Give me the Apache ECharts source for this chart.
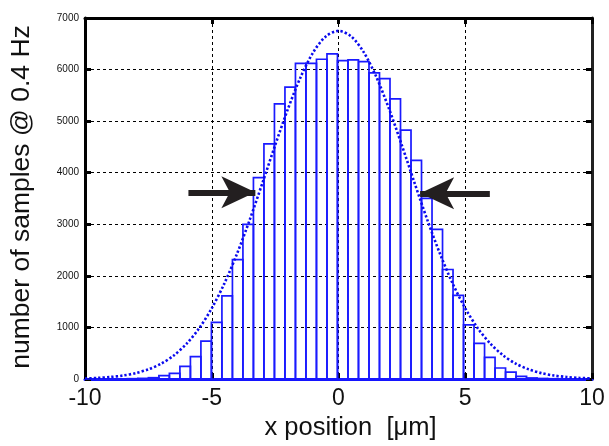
<!DOCTYPE html>
<html>
<head>
<meta charset="utf-8">
<script src="https://cdn.jsdelivr.net/npm/echarts@6/dist/echarts.min.js"></script>
<style>
html,body{margin:0;padding:0;background:#fff;}
#chart{width:609px;height:446px;}
</style>
</head>
<body>
<div id="chart"></div>
<script>
// Histogram bins: first left edge and bin width (μm)
const binStart = -9.986;
const binWidth = 0.4144;
// Counts per bin, left to right (48 bins)
const binCounts = [
  0, 1, 2, 3, 6, 12, 25, 64, 110, 246, 432, 735,
  1097, 1612, 2316, 3000, 3903, 4561, 5335, 5658, 6122, 6122, 6200, 6303,
  6174, 6187, 6154, 5935, 5826, 5432, 4825, 4238, 3503, 2903, 2123, 1620,
  1051, 690, 419, 213, 135, 52, 20, 10, 5, 3, 1, 0
];
// Gaussian fit curve
const fitX = [-10,-9.5,-9,-8.5,-8,-7.5,-7,-6.5,-6,-5.5,-5,-4.5,-4,-3.5,-3,-2.5,-2,-1.5,-1,-0.5,0,
              0.5,1,1.5,2,2.5,3,3.5,4,4.5,5,5.5,6,6.5,7,7.5,8,8.5,9,9.5,10];
const fitY = [11,21,39,67,114,187,296,456,680,981,1371,1855,2433,3090,3802,4531,5230,5848,6333,6643,6750,
              6643,6333,5848,5230,4531,3802,3090,2433,1855,1371,981,680,456,296,187,114,67,39,21,11];
// Arrows marking the FWHM: [tail x, tip x, y]
const arrowLeft = [-5.92, -3.28, 3620];
const arrowRight = [5.97, 3.22, 3600];
const xTicks = [-10, 10, 5];   // min, max, interval
const yTicks = [0, 7000, 1000];

const histData = binCounts.map((c, i) => [binStart + i * binWidth, binStart + (i + 1) * binWidth, c]);
const fitData = fitX.map((x, i) => [x, fitY[i]]);

const chart = echarts.init(document.getElementById('chart'), null, {renderer: 'canvas'});
const FONT = 'Liberation Sans, Arial, Helvetica, sans-serif';
const gridDash = {type: [3, 3], color: '#000', width: 1};

chart.setOption({
  animation: false,
  backgroundColor: '#fff',
  grid: {left: 85, right: 17, top: 18, bottom: 66},
  xAxis: [{
    type: 'value', min: xTicks[0], max: xTicks[1], interval: xTicks[2], position: 'bottom',
    axisLine: {show: true, onZero: false, lineStyle: {color: '#1414ff', width: 3}},
    axisTick: {show: true, inside: true, length: 6, lineStyle: {color: '#000', width: 3}},
    axisLabel: {fontSize: 23, color: '#111', fontFamily: FONT, margin: 8},
    splitLine: {show: true, lineStyle: gridDash},
    name: 'x position  [μm]', nameLocation: 'middle', nameGap: 36,
    nameTextStyle: {fontSize: 25.5, color: '#111', fontFamily: FONT, padding: [0, 0, 0, 24]}
  }, {
    type: 'value', min: xTicks[0], max: xTicks[1], interval: xTicks[2], position: 'top',
    axisLine: {show: true, onZero: false, lineStyle: {color: '#000', width: 3}},
    axisTick: {show: true, inside: true, length: 6, lineStyle: {color: '#000', width: 3}},
    axisLabel: {show: false}, splitLine: {show: false}
  }],
  yAxis: [{
    type: 'value', min: yTicks[0], max: yTicks[1], interval: yTicks[2], position: 'left',
    axisLine: {show: true, onZero: false, lineStyle: {color: '#000', width: 3}},
    axisTick: {show: true, inside: true, length: 6, lineStyle: {color: '#000', width: 3}},
    axisLabel: {fontSize: 10, color: '#111', fontFamily: FONT, margin: 6, formatter: v => String(v)},
    splitLine: {show: true, lineStyle: gridDash},
    name: 'number of samples @ 0.4 Hz', nameLocation: 'middle', nameGap: 50,
    nameTextStyle: {fontSize: 26.5, color: '#111', fontFamily: FONT, padding: [0, 0, 0, 3]}
  }, {
    type: 'value', min: yTicks[0], max: yTicks[1], interval: yTicks[2], position: 'right',
    axisLine: {show: true, onZero: false, lineStyle: {color: '#222', width: 3}},
    axisTick: {show: true, inside: true, length: 6, lineStyle: {color: '#000', width: 3}},
    axisLabel: {show: false}, splitLine: {show: false}
  }],
  series: [{
    type: 'custom',
    xAxisIndex: 0, yAxisIndex: 0,
    data: histData,
    encode: {x: [0, 1], y: 2},
    renderItem: function (params, api) {
      const p0 = api.coord([api.value(0), api.value(2)]);
      const p1 = api.coord([api.value(1), 0]);
      return {
        type: 'rect',
        shape: {x: p0[0], y: p0[1], width: p1[0] - p0[0], height: p1[1] - p0[1]},
        style: {fill: 'none', stroke: '#1a1aff', lineWidth: 1.7}
      };
    },
    silent: true
  }, {
    type: 'line',
    xAxisIndex: 0, yAxisIndex: 0,
    data: fitData,
    smooth: 0.3,
    showSymbol: false,
    silent: true,
    lineStyle: {color: '#0a0aee', width: 2.6, type: [2.3, 2.1], cap: 'butt'},
    markLine: {
      silent: true,
      symbol: ['none', 'arrow'],
      symbolSize: [24, 34],
      label: {show: false},
      lineStyle: {color: '#231f20', width: 6, type: 'solid'},
      data: [
        [{coord: [arrowLeft[0], arrowLeft[2]]}, {coord: [arrowLeft[1], arrowLeft[2]]}],
        [{coord: [arrowRight[0], arrowRight[2]]}, {coord: [arrowRight[1], arrowRight[2]]}]
      ]
    }
  }]
});
</script>
</body>
</html>
